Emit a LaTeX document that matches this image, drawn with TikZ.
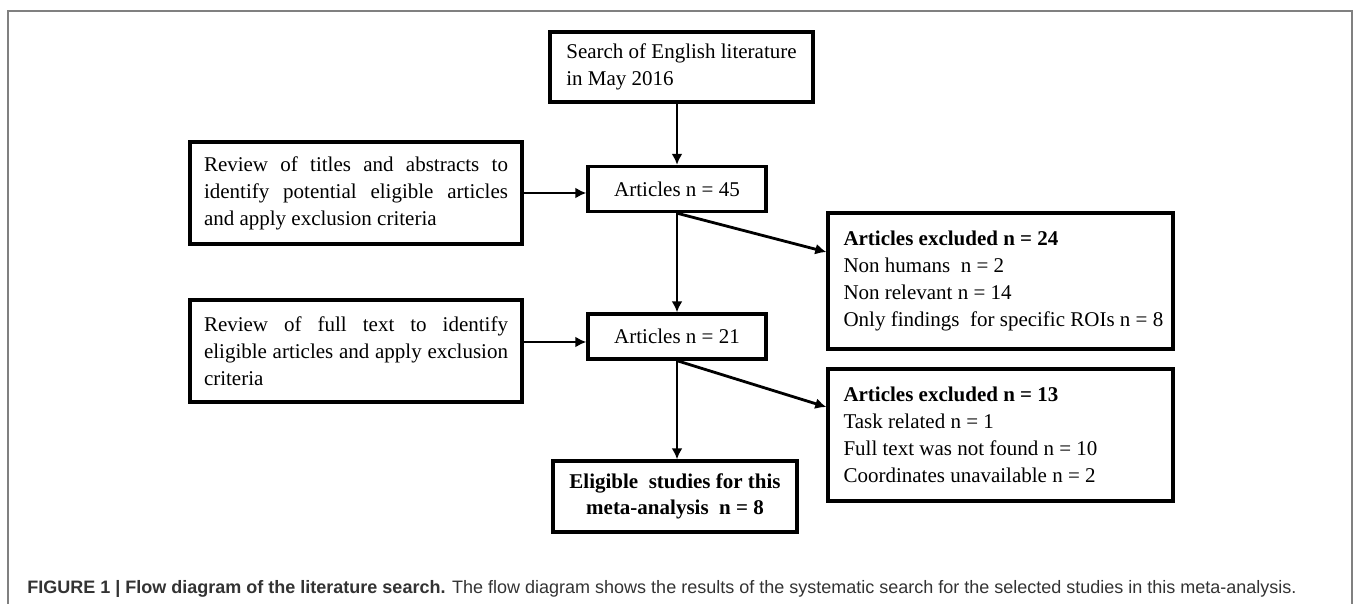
\documentclass[tikz,border=0pt]{standalone}
\usepackage{fontspec}
\setmainfont{Liberation Serif}
\newfontfamily\capfont{Liberation Sans}
\usetikzlibrary{arrows.meta}
\newcommand{\nohyph}{\hyphenpenalty=10000\relax\exhyphenpenalty=10000\relax}

\begin{document}
\begin{tikzpicture}[x=0.5pt, y=-0.5pt,
    box/.style={draw, line width=1.7pt, inner sep=0pt, font=\fontsize{10.5}{13.5}\selectfont\nohyph},
    revbox/.style={box, minimum width=166pt, minimum height=51pt, text width=152pt, align=justify},
    artbox/.style={box, minimum width=89pt, minimum height=22.5pt},
    exbox/.style={box, minimum width=172.5pt, text width=157pt, align=flush left},
    arr/.style={line width=1.4pt, -{Latex[length=5.5pt,width=5.5pt]}}]

    % Page size
    \useasboundingbox (0,0) rectangle (1355,604);

    % Outer frame (open at the bottom)
    \draw[gray, line width=1pt] (8,604) -- (8,11) -- (1352,11) -- (1352,604);

    % Main column
    \node[box, minimum width=131.5pt, minimum height=35pt, align=left] (search) at (681.5,67)
        {Search of English literature\\in May 2016};
    \node[artbox] (a45) at (677,189) {Articles n = 45};
    \node[artbox] (a21) at (677,336.5) {Articles n = 21};
    \node[box, minimum width=122pt, minimum height=35.5pt, align=center, font=\fontsize{10.5}{13}\selectfont\bfseries] (elig) at (675,496.5)
        {Eligible~ studies for this\\meta-analysis~ n = 8};

    % Review steps on the left
    \node[revbox] (rev1) at (356,193)
        {Review of titles and abstracts to identify potential eligible articles and apply exclusion criteria};
    \node[revbox] (rev2) at (356,351)
        {Review of full text to identify eligible articles and apply exclusion criteria};

    % Exclusions on the right
    \node[exbox, minimum height=68pt] (ex24) at (1000.5,281)
        {\textbf{Articles excluded n = 24}\\Non humans~ n = 2\\Non relevant n = 14\\\mbox{Only findings~ for specific ROIs n = 8}};
    \node[exbox, minimum height=66pt] (ex13) at (1000.5,435)
        {\textbf{Articles excluded n = 13}\\Task related n = 1\\Full text was not found n = 10\\Coordinates unavailable n = 2};

    % Arrows
    \draw[arr] (a45.north |- search.south) -- (a45.north);
    \draw[arr] (rev1.east) -- (rev1.east -| a45.west);
    \draw[arr] (a45.south) -- ([yshift=14.5pt]ex24.west);
    \draw[arr] (a45.south) -- (a21.north);
    \draw[arr] ([yshift=4.5pt]rev2.east) -- ([yshift=4.5pt]rev2.east -| a21.west);
    \draw[arr] (a21.south) -- ([yshift=14pt]ex13.west);
    \draw[arr] (a21.south) -- (elig.north -| a21.south);

    % Caption
    \node[anchor=base west, inner sep=0pt, text=black!80, font=\capfont\fontsize{9}{11}\selectfont] (caption) at (27,593)
        {\textbf{FIGURE 1 | Flow diagram of the literature search.} The flow diagram shows the results of the systematic search for the selected studies in this meta-analysis.};

\end{tikzpicture}
\end{document}
